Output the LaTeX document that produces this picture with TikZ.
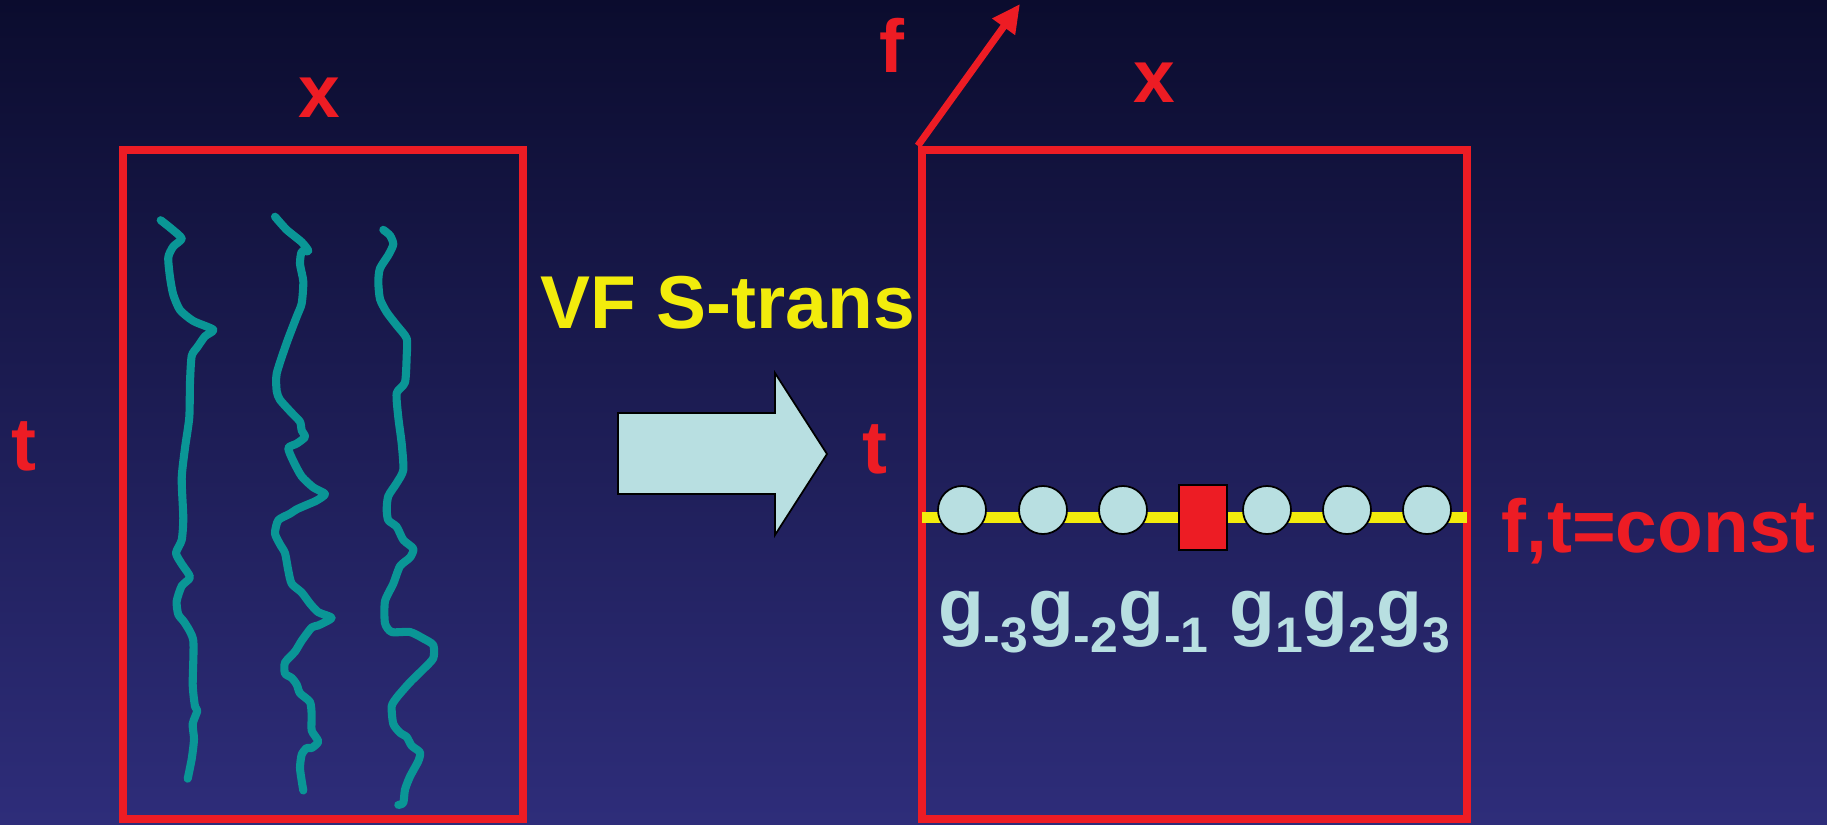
\documentclass[tikz,border=0pt]{standalone}
\usepackage{fontspec}
\setmainfont{Liberation Sans}
\usetikzlibrary{arrows.meta}

\definecolor{bgtop}{RGB}{11,12,46}
\definecolor{bgbot}{RGB}{46,45,122}
\definecolor{sred}{RGB}{237,28,36}
\definecolor{syellow}{RGB}{242,236,12}
\definecolor{spale}{RGB}{184,223,225}
\definecolor{steal}{RGB}{10,150,150}

\tikzset{
  lbl/.style={inner sep=0, anchor=base, font=\fontsize{21.3pt}{25pt}\selectfont\bfseries},
  frame/.style={draw=sred, line width=2.3pt, inner sep=0},
  cell/.style={circle, draw=black, line width=0.5pt, fill=spale, minimum size=0.48cm, inner sep=0},
  track/.style={steal, line width=2.3pt, line cap=round, line join=round},
}

\newcommand{\gsub}[1]{g\raisebox{-6pt}{\fontsize{14.2pt}{16pt}\selectfont #1}}

\begin{document}
\begin{tikzpicture}[x=0.01cm, y=-0.01cm]
  \useasboundingbox (0,0) rectangle (1827,824);
  \shade[top color=bgtop, bottom color=bgbot] (0,0) rectangle (1827,824);

  % x-t plane with the paths
  \node[frame, minimum width=4cm, minimum height=6.69cm] (xt) at (323,484.5) {};
  \node[lbl, sred] (xl) at (319.5,117.7) {x};
  \node[lbl, sred] (tl) at (24,470) {t};

  \draw[track] plot[smooth, tension=0.4] coordinates {(160.7,220.2) (171.7,229) (181.7,238.6) (173.3,246.5) (168.3,257.4) (170,277.1) (173.3,294.7) (180,310) (193.3,321) (213.3,329.7) (205,336.3) (197.3,347.2) (191.7,356) (190,382.3) (189.3,417.3) (185,448) (181.7,478.6) (183.3,518) (181.7,540) (176,553) (181.7,564) (190,577.2) (181.7,586) (176.7,601.3) (178.3,614.4) (185,623.2) (193.3,640.7) (192.7,684.5) (195,706.4) (197.3,710.8) (192.7,723.9) (194,739.2) (191.7,759) (187.7,778.7)};
  \draw[track] plot[smooth, tension=0.4] coordinates {(275,216.7) (286.7,229.8) (301.7,242.1) (308.3,250.9) (301.7,251.7) (300,264) (303.3,281.5) (301.7,303.4) (296.7,316.6) (286.7,342.8) (276.7,373.5) (276.7,391) (280,399.8) (291.7,412.9) (300,421.7) (301.7,430.4) (305,437) (296.7,443.6) (288.3,448) (293.3,461.1) (301.7,476.4) (313.3,487.4) (325,494) (316.7,500.5) (306.7,504.9) (296.7,509.3) (290,513.7) (278.3,520.2) (275,533.4) (280,544.3) (285,553.1) (288.3,570.6) (291.7,583.7) (301.7,592.5) (310,603.5) (318.3,612.2) (331.7,617.9) (318.3,625.4) (311.7,627.5) (301.7,640.7) (295,651.6) (285,662.6) (285,673.5) (291.7,677.9) (296.7,684.5) (300,693.2) (310,702) (311.7,715.1) (311.7,730.5) (318.3,741.4) (311.7,748) (306.7,748) (301.7,754.6) (300,767.7) (301.7,780.8) (303.3,790.5)};
  \draw[track] plot[smooth, tension=0.4] coordinates {(383.3,229.8) (390,235.5) (393.3,244.3) (388.3,255.2) (380,268.4) (378.3,281.5) (380,299) (386.7,312.2) (396.7,325.3) (406.7,338.5) (406.7,356) (405,382.3) (396.7,393.2) (398.3,417.3) (401.7,443.6) (403.3,469.9) (396.7,483) (388.3,496.1) (386.7,509.3) (388.3,520.2) (396.7,526.8) (403.3,539.9) (413.3,548.7) (410,557.5) (400,566.2) (393.3,583.7) (385,601.3) (385,623.2) (391.7,632) (410,632) (423.3,638.5) (433.3,645.1) (433.3,658.2) (423.3,669.2) (410,682.3) (396.7,697.6) (391.7,706.4) (393.3,723.9) (400,732.7) (406.7,737) (411.7,745.8) (420,752.4) (418.3,761.1) (410,776.5) (405,789.6) (403.3,802.7) (398.3,804.9)};

  % transform arrow
  \node[lbl, syellow] (vf) at (727.5,328) {VF S-trans};
  \draw[fill=spale, line width=0.5pt] (618,413) -- (775,413) -- (775,373) -- (827,454) -- (775,535) -- (775,494) -- (618,494) -- cycle;

  % t-f-x cube face
  \node[frame, minimum width=5.45cm, minimum height=6.69cm] (tf) at (1194.5,484.5) {};
  \node[lbl, sred] (xr) at (1154.5,102) {x};
  \node[lbl, sred] (tr) at (874.5,473) {t};
  \node[lbl, sred] (fr) at (892,72) {f};
  \coordinate (ftip) at (1020,4);
  \draw[sred, line width=2pt, -{Triangle[length=8pt, width=7.5pt]}] (tf.north west) -- (ftip);

  \coordinate (ybase) at (0,517.5);
  \draw[syellow, line width=3.3pt, shorten <=0.04cm, shorten >=0.04cm] (tf.west |- ybase) -- (tf.east |- ybase);
  \foreach \gx [count=\i] in {962,1043,1123,1267,1347,1427}
    \node[cell] (c\i) at (\gx,510) {};
  \node[draw=black, fill=sred, line width=0.5pt, minimum width=0.48cm, minimum height=0.65cm, inner sep=0] (g0) at (1203,517.5) {};

  \node[lbl, spale] (gl) at (1194,631) {\gsub{-3}\gsub{-2}\gsub{-1} \gsub{1}\gsub{2}\gsub{3}};
  \node[lbl, sred] (ft) at (1658.5,552) {f,t=const};

\end{tikzpicture}
\end{document}
